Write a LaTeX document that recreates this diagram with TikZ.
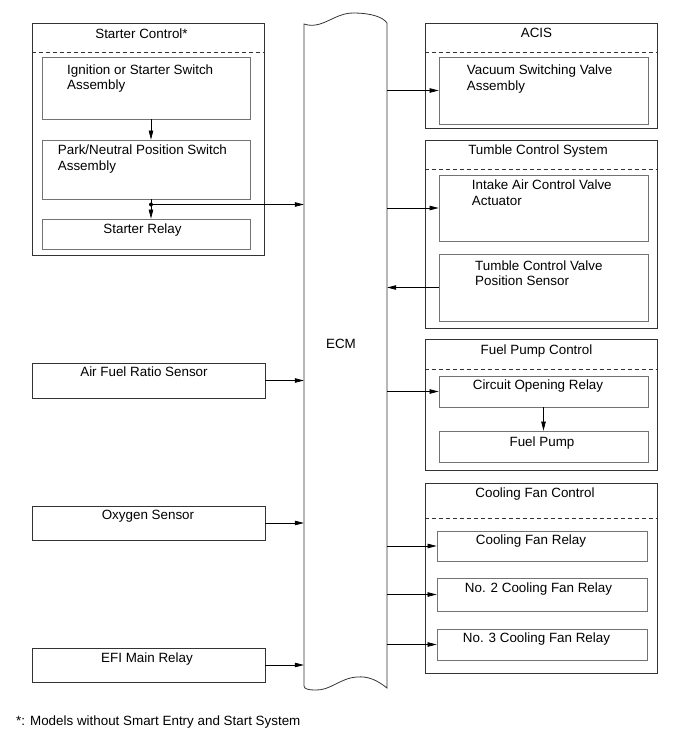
\documentclass[tikz,border=0pt]{standalone}
\usepackage{fontspec}
\setmainfont{Liberation Sans}
\usetikzlibrary{arrows.meta}

\begin{document}
\begin{tikzpicture}[x=1pt,y=-1pt,
  every node/.style={font=\fontsize{13.4}{15.5}\selectfont},
  grp/.style={draw=black!80, line width=0.8pt, inner sep=0pt},
  unit/.style={draw=black!55, line width=0.8pt, inner sep=0pt},
  lbl/.style={anchor=base west, inner sep=0pt, align=left},
  ttl/.style={anchor=base, inner sep=0pt},
  sep/.style={draw=black!80, line width=0.7pt, dash pattern=on 4pt off 3pt},
  arr/.style={draw=black, line width=0.7pt, -{Triangle[length=9pt,width=4.5pt]}}]
\useasboundingbox (0,0) rectangle (690,756);
\node[grp, minimum width=232pt, minimum height=232pt] (starter) at (148,139) {};
\node[unit, minimum width=208pt, minimum height=62pt] (ign) at (146,88) {};
\node[unit, minimum width=208pt, minimum height=59pt] (pnp) at (146,169.5) {};
\node[unit, minimum width=208pt, minimum height=30pt] (strel) at (146,234) {};
\node[grp, minimum width=233pt, minimum height=35pt] (afr) at (148.5,380.5) {};
\node[grp, minimum width=233pt, minimum height=34pt] (oxs) at (148.5,523) {};
\node[grp, minimum width=233pt, minimum height=34pt] (efi) at (148.5,665) {};
\node[minimum width=83pt, minimum height=666pt, inner sep=0pt] (ecm) at (345.5,357) {};
\node[grp, minimum width=232pt, minimum height=105pt] (acis) at (541,75.5) {};
\node[unit, minimum width=209pt, minimum height=67pt] (vsv) at (543.5,90.5) {};
\node[grp, minimum width=232pt, minimum height=188pt] (tumble) at (541,234) {};
\node[unit, minimum width=209pt, minimum height=66pt] (iacv) at (543.5,208) {};
\node[unit, minimum width=209pt, minimum height=67pt] (tcvs) at (543.5,287.5) {};
\node[grp, minimum width=232pt, minimum height=131pt] (fuel) at (541,404.5) {};
\node[unit, minimum width=209pt, minimum height=31pt] (cor) at (543.5,391.5) {};
\node[unit, minimum width=209pt, minimum height=31pt] (pump) at (543.5,446.5) {};
\node[grp, minimum width=232pt, minimum height=190pt] (fan) at (541,578) {};
\node[unit, minimum width=210pt, minimum height=30pt] (fanA) at (542,546) {};
\node[unit, minimum width=210pt, minimum height=33pt] (fanB) at (542,594.5) {};
\node[unit, minimum width=210pt, minimum height=31pt] (fanC) at (542,644.5) {};
\draw[sep] (starter.west |- 0,52) -- (starter.east |- 0,52);
\draw[sep] (acis.west |- 0,52) -- (acis.east |- 0,52);
\draw[sep] (tumble.west |- 0,169) -- (tumble.east |- 0,169);
\draw[sep] (fuel.west |- 0,369) -- (fuel.east |- 0,369);
\draw[sep] (fan.west |- 0,518) -- (fan.east |- 0,518);
\draw[black!80, line width=0.8pt] (304,24) .. controls (322,30) and (334,13) .. (353,13) .. controls (371,13) and (383,17) .. (387,23) -- (387,688) .. controls (377,680) and (368,676) .. (357,677) .. controls (340,678) and (330,691) .. (315,690) .. controls (309,690) and (304,689) .. (304,686) -- cycle;
\node[ttl] (ecmT) at (341,348) {ECM};
\node[ttl] (starterT) at (141.5,38) {Starter Control*};
\node[lbl] (ignT) at (67,89.5) {Ignition or Starter Switch\\Assembly};
\node[lbl] (pnpT) at (57.7,170) {Park/Neutral Position Switch\\Assembly};
\node[ttl] (strelT) at (142.5,233) {Starter Relay};
\node[ttl] (afrT) at (144,376.7) {Air Fuel Ratio Sensor};
\node[ttl] (oxsT) at (148,519) {Oxygen Sensor};
\node[ttl] (efiT) at (147,662.7) {EFI Main Relay};
\node[ttl] (acisT) at (536.5,37) {ACIS};
\node[lbl] (vsvT) at (466.7,90) {Vacuum Switching Valve\\Assembly};
\node[ttl] (tumbleT) at (538,154.5) {Tumble Control System};
\node[lbl] (iacvT) at (471.7,205) {Intake Air Control Valve\\Actuator};
\node[lbl] (tcvsT) at (475,285.5) {Tumble Control Valve\\Position Sensor};
\node[ttl] (fuelT) at (536.5,354) {Fuel Pump Control};
\node[ttl] (corT) at (538,389) {Circuit Opening Relay};
\node[ttl] (pumpT) at (542,446) {Fuel Pump};
\node[ttl] (fanT) at (535,497.7) {Cooling Fan Control};
\node[ttl] (fanAT) at (531,544.3) {Cooling Fan Relay};
\node[ttl] (fanBT) at (538.5,592.7) {No. 2 Cooling Fan Relay};
\node[ttl] (fanCT) at (536.5,642.7) {No. 3 Cooling Fan Relay};
\node[anchor=base west, inner sep=0pt] (note) at (16,725) {*: Models without Smart Entry and Start System};
\coordinate (tap) at (151,204.5);
\draw[arr] (ign.south -| tap) -- (pnp.north -| tap);
\draw[arr] (pnp.south -| tap) -- (strel.north -| tap);
\fill (tap) circle (2pt);
\draw[arr] (tap) -- (tap -| ecm.west);
\draw[arr] (afr.east) -- (afr.east -| ecm.west);
\draw[arr] (oxs.east) -- (oxs.east -| ecm.west);
\draw[arr] (efi.east) -- (efi.east -| ecm.west);
\draw[arr] (vsv.west -| ecm.east) -- (vsv.west);
\draw[arr] (iacv.west -| ecm.east) -- (iacv.west);
\draw[arr] (tcvs.west) -- (tcvs.west -| ecm.east);
\draw[arr] (cor.west -| ecm.east) -- (cor.west);
\draw[arr] (cor) -- (pump);
\draw[arr] (fanA.west -| ecm.east) -- (fanA.west);
\draw[arr] (fanB.west -| ecm.east) -- (fanB.west);
\draw[arr] (fanC.west -| ecm.east) -- (fanC.west);
\end{tikzpicture}
\end{document}
